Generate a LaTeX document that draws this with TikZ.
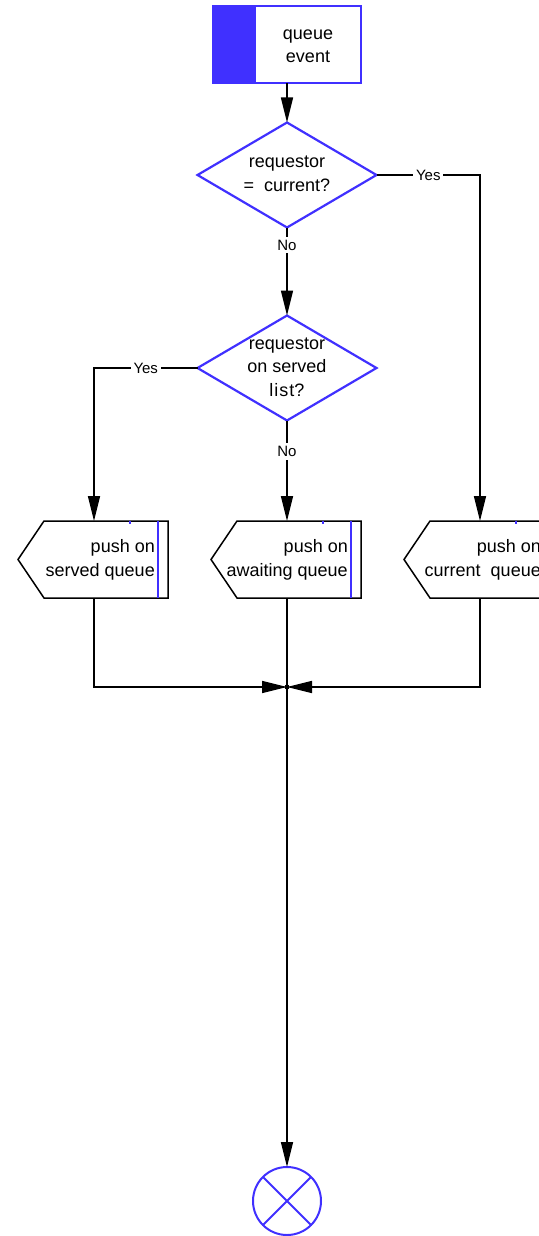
\documentclass[tikz,border=0pt]{standalone}
\usepackage{fontspec}
\setmainfont{Liberation Sans}
\usetikzlibrary{arrows.meta,shapes.geometric}
\definecolor{flowblue}{RGB}{64,48,255}
\tikzset{
  wire/.style={line width=1.5pt},
  flow/.style={wire, -{Triangle[length=25pt,width=12pt]}},
  startbox/.style={minimum width=148pt, minimum height=77pt, inner sep=0pt, outer sep=0pt},
  decision/.style={diamond, draw=flowblue, line width=2.2pt, minimum width=179pt,
    minimum height=105pt, inner sep=0pt, outer sep=0pt, shape aspect=1.7},
  stop/.style={circle, draw=flowblue, line width=2pt, minimum size=68pt, inner sep=0pt, outer sep=0pt},
  boxtext/.style={inner sep=0pt, font=\fontsize{18}{23.5}\selectfont},
  answer/.style={fill=white, inner sep=3pt, font=\fontsize{15}{18}\selectfont},
}
\begin{document}
\begin{tikzpicture}[x=1pt, y=-1pt]
    \useasboundingbox (0,0) rectangle (538,1236);
    % start of the event
    \node[startbox] (event) at (287,44.5) {};
    \fill[flowblue] (event.north west) rectangle ([xshift=43pt]event.south west);
    \draw[flowblue, line width=1.5pt] (event.north west) rectangle (event.south east);
    \node[boxtext, align=center] (eventtext) at (308,46) {queue\\event};
    % the two questions
    \node[decision] (cur) at (287,175) {};
    \node[boxtext, align=center] (curtext) at (287,174) {requestor\\=\ \ current?};
    \node[decision] (srv) at (287,368) {};
    \node[boxtext, align=center] (srvtext) at (287,367) {requestor\\on served\\l\kern1pt i\kern1pt s\kern1pt t?};
    % the three queues
    \foreach \name/\x/\txt in {served/94/served queue, awaiting/287/awaiting queue, current/480/current\ \ queue}{
        \draw[wire] (\x-50,521) -- (\x+74,521) -- (\x+74,598) -- (\x-50,598) -- (\x-76,559.5) -- cycle;
        \draw[flowblue, line width=1.5pt] (\x+64,521) -- (\x+64,598)
            (\x+36,521) -- (\x+36,523.5);
        \node[boxtext, align=right, anchor=east] (\name-text) at (\x+61,560) {push on\\\txt};
        \coordinate (\name-in) at (\x,521);
        \coordinate (\name-out) at (\x,598);
    }
    % connectors
    \draw[flow] (event.south) -- (cur.north);
    \draw[flow] (cur.east) -- node[answer] (yesright) {Yes} (cur.east -| current-in) -- (current-in);
    \draw[flow] (cur.south) -- node[answer, pos=0.2] (nocur) {No} (srv.north);
    \draw[flow] (srv.west) -- node[answer] (yesleft) {Yes} (srv.west -| served-in) -- (served-in);
    \draw[flow] (srv.south) -- node[answer, pos=0.31] (nosrv) {No} (awaiting-in);
    % merge and end
    \coordinate (join) at (287,687);
    \node[stop] (end) at (287,1201) {};
    \draw[flow] (served-out) |- (join);
    \draw[flow] (current-out) |- (join);
    \draw[flow] (awaiting-out) -- (end);
    \fill (join) circle (2.5);
    \draw[flowblue, line width=2pt] (end.45) -- (end.225) (end.135) -- (end.315);
\end{tikzpicture}
\end{document}
